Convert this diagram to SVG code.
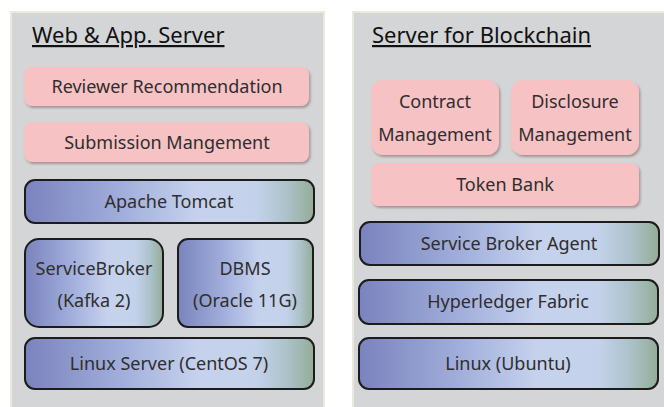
<svg xmlns="http://www.w3.org/2000/svg" width="664" height="407" viewBox="0 0 664 407">
  <defs>
    <linearGradient id="blue" x1="0" y1="0" x2="1" y2="0">
      <stop offset="0" stop-color="#7a83bd"/>
      <stop offset="0.35" stop-color="#a3b0dc"/>
      <stop offset="0.6" stop-color="#c6d2ed"/>
      <stop offset="0.8" stop-color="#c3d2ea"/>
      <stop offset="0.9" stop-color="#aec3cc"/>
      <stop offset="1" stop-color="#93ad98"/>
    </linearGradient>
    <filter id="sh" x="-10%" y="-20%" width="120%" height="150%">
      <feDropShadow dx="1.5" dy="2" stdDeviation="1.2" flood-color="#8a6a6a" flood-opacity="0.6"/>
    </filter>
  </defs>
  <style>
    .panel { fill: #d3d5d7; stroke: #ebe8dd; stroke-width: 2; }
    .pink { fill: #f7c2c4; filter: url(#sh); }
    .blue { fill: url(#blue); stroke: #1c1c1c; stroke-width: 2; }
    text { font-family: "Noto Sans", "Open Sans", sans-serif; fill: #2e2e2e; text-anchor: middle; font-size: 18px; }
    .title { font-size: 22px; fill: #111; text-anchor: start; text-decoration: underline; }
  </style>
  <rect width="664" height="407" fill="#ffffff"/>

  <g id="web-app-server">
    <rect class="panel" x="11" y="12" width="313" height="397"/>
    <text class="title" x="32" y="43">Web &amp; App. Server</text>
  </g>
  <g id="blockchain-server">
    <rect class="panel" x="353" y="12" width="313" height="397"/>
    <text class="title" x="372" y="43">Server for Blockchain</text>
  </g>

  <g id="reviewer-recommendation">
    <rect class="pink" x="24" y="67" width="285" height="39" rx="8"/>
    <text x="167" y="93">Reviewer Recommendation</text>
  </g>
  <g id="submission-mangement">
    <rect class="pink" x="24" y="122" width="285" height="40" rx="8"/>
    <text x="167" y="149">Submission Mangement</text>
  </g>
  <g id="apache-tomcat">
    <rect class="blue" x="25" y="180" width="289" height="43" rx="10"/>
    <text x="169" y="208">Apache Tomcat</text>
  </g>
  <g id="service-broker">
    <rect class="blue" x="25" y="239" width="138" height="88" rx="14"/>
    <text x="94" y="275">ServiceBroker</text>
    <text x="94" y="307">(Kafka 2)</text>
  </g>
  <g id="dbms">
    <rect class="blue" x="178" y="239" width="135" height="88" rx="10"/>
    <text x="245" y="275">DBMS</text>
    <text x="245" y="307">(Oracle 11G)</text>
  </g>
  <g id="linux-server">
    <rect class="blue" x="25" y="338" width="289" height="51" rx="10"/>
    <text x="169" y="370">Linux Server (CentOS 7)</text>
  </g>

  <g id="contract-management">
    <rect class="pink" x="371" y="80" width="128" height="75" rx="12"/>
    <text x="435" y="108">Contract</text>
    <text x="435" y="141">Management</text>
  </g>
  <g id="disclosure-management">
    <rect class="pink" x="511" y="80" width="128" height="75" rx="12"/>
    <text x="575" y="108">Disclosure</text>
    <text x="575" y="141">Management</text>
  </g>
  <g id="token-bank">
    <rect class="pink" x="371" y="163" width="268" height="43" rx="8"/>
    <text x="505" y="191">Token Bank</text>
  </g>
  <g id="service-broker-agent">
    <rect class="blue" x="360" y="222" width="299" height="43" rx="10"/>
    <text x="509" y="250">Service Broker Agent</text>
  </g>
  <g id="hyperledger-fabric">
    <rect class="blue" x="359" y="280" width="299" height="44" rx="10"/>
    <text x="508" y="308">Hyperledger Fabric</text>
  </g>
  <g id="linux-ubuntu">
    <rect class="blue" x="359" y="338" width="299" height="51" rx="10"/>
    <text x="508" y="370">Linux (Ubuntu)</text>
  </g>
  <g id="connectors"/>
</svg>
